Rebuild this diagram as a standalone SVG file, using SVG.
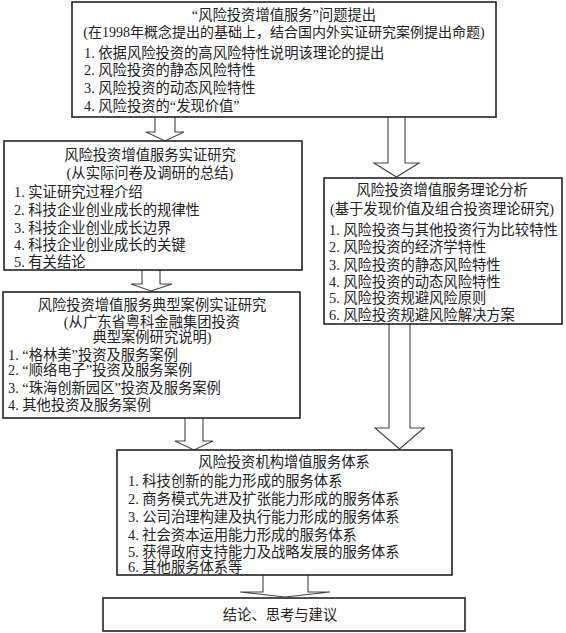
<svg xmlns="http://www.w3.org/2000/svg" width="566" height="633" viewBox="0 0 566 633">
<style>
.box{fill:#fff;stroke:#222;stroke-width:1.6}
.arr{fill:#fff;stroke:#444;stroke-width:1.1}
text{font-family:"Liberation Serif","Noto Sans CJK SC",serif;font-size:14.3px;fill:#222}
.c{text-anchor:middle}
</style>
<rect width="566" height="633" fill="#fff"/>
<g id="connectors">
<path class="arr" d="M155,117 V132 H146 L165,141 L184,132 H175 V117"/>
<path class="arr" d="M388,117 V163 H374 L396.5,177 L419,163 H405 V117"/>
<path class="arr" d="M142,270 V284 H131 L151,291 L172,284 H160 V270"/>
<path class="arr" d="M185,418 V441 H175 L194,450 L213,441 H203 V418"/>
<path class="arr" d="M389,324 V428 H375 L399.5,449 L424,428 H410 V324"/>
<path class="arr" d="M263,575 V592 H240 L285,597 L330,592 H308 V575"/>
</g>
<g id="n1">
<rect class="box" x="72" y="2" width="424" height="115"/>
<text class="c" x="284" y="20">“风险投资增值服务”问题提出</text>
<text class="c" x="284" y="37" style="font-size:14px">(在1998年概念提出的基础上，结合国内外实证研究案例提出命题)</text>
<text x="84" y="58">1. 依据风险投资的高风险特性说明该理论的提出</text>
<text x="84" y="75">2. 风险投资的静态风险特性</text>
<text x="84" y="93">3. 风险投资的动态风险特性</text>
<text x="84" y="111">4. 风险投资的“发现价值”</text>
</g>
<g id="n2">
<rect class="box" x="4" y="141" width="298" height="129"/>
<text class="c" x="150" y="160">风险投资增值服务实证研究</text>
<text class="c" x="150" y="178">(从实际问卷及调研的总结)</text>
<text x="14" y="197">1. 实证研究过程介绍</text>
<text x="14" y="215">2. 科技企业创业成长的规律性</text>
<text x="14" y="233">3. 科技企业创业成长边界</text>
<text x="14" y="250">4. 科技企业创业成长的关键</text>
<text x="14" y="267">5. 有关结论</text>
</g>
<g id="n3">
<rect class="box" x="3" y="292" width="297" height="126"/>
<text class="c" x="152" y="310">风险投资增值服务典型案例实证研究</text>
<text class="c" x="152" y="327">(从广东省粤科金融集团投资</text>
<text class="c" x="152" y="342">典型案例研究说明)</text>
<text x="8" y="360">1. “格林美”投资及服务案例</text>
<text x="8" y="375">2. “顺络电子”投资及服务案例</text>
<text x="8" y="393">3. “珠海创新园区”投资及服务案例</text>
<text x="8" y="410">4. 其他投资及服务案例</text>
</g>
<g id="n4">
<rect class="box" x="324" y="178" width="238" height="146"/>
<text class="c" x="442" y="195">风险投资增值服务理论分析</text>
<text class="c" x="442" y="214">(基于发现价值及组合投资理论研究)</text>
<text x="329" y="235">1. 风险投资与其他投资行为比较特性</text>
<text x="329" y="252">2. 风险投资的经济学特性</text>
<text x="329" y="270">3. 风险投资的静态风险特性</text>
<text x="329" y="287">4. 风险投资的动态风险特性</text>
<text x="329" y="303">5. 风险投资规避风险原则</text>
<text x="329" y="320">6. 风险投资规避风险解决方案</text>
</g>
<g id="n5">
<rect class="box" x="117" y="450" width="335" height="125"/>
<text class="c" x="284" y="467">风险投资机构增值服务体系</text>
<text x="128" y="486">1. 科技创新的能力形成的服务体系</text>
<text x="128" y="504">2. 商务模式先进及扩张能力形成的服务体系</text>
<text x="128" y="522">3. 公司治理构建及执行能力形成的服务体系</text>
<text x="128" y="540">4. 社会资本运用能力形成的服务体系</text>
<text x="128" y="557">5. 获得政府支持能力及战略发展的服务体系</text>
<text x="128" y="572">6. 其他服务体系等</text>
</g>
<g id="n6">
<rect class="box" x="103" y="598" width="362" height="33"/>
<text class="c" x="280" y="620">结论、思考与建议</text>
</g>
</svg>
